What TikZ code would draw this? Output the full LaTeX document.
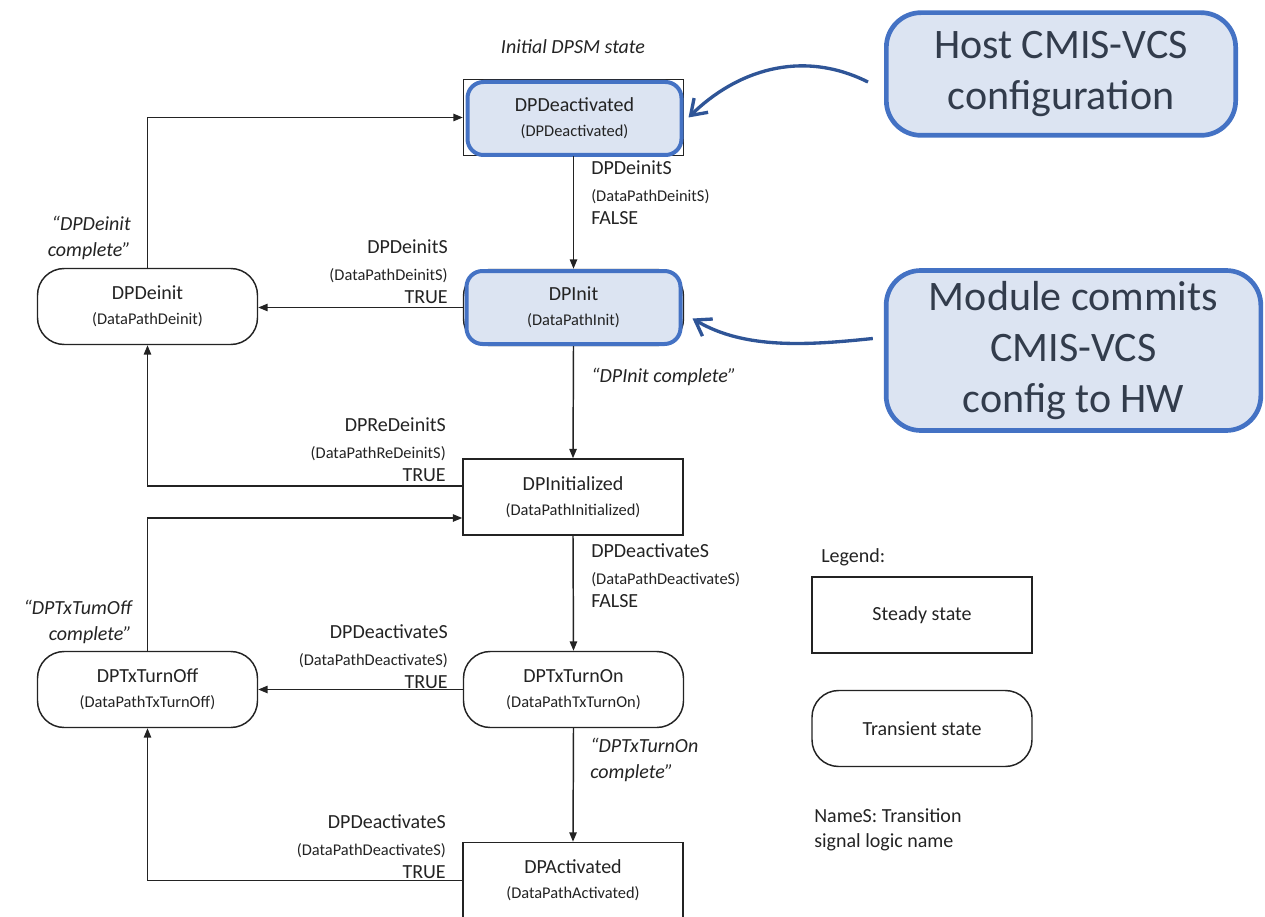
\documentclass[tikz,border=0pt]{standalone}
\usepackage{fontspec}
\setmainfont{Carlito}
\usetikzlibrary{arrows.meta,calc}

\definecolor{hlblue}{RGB}{68,114,196}
\definecolor{hlfill}{RGB}{220,228,242}
\definecolor{arrowblue}{RGB}{47,85,151}
\definecolor{calltext}{RGB}{50,60,76}
\definecolor{inkgray}{RGB}{35,35,35}

\newcommand{\statefont}{\fontsize{15}{17}\selectfont}
\newcommand{\parenfont}{\fontsize{12.3}{14}\selectfont}
\newcommand{\calloutfont}{\fontsize{31.5}{38}\selectfont}
\newcommand{\dpstate}[2]{#1\\[1.75pt]{\parenfont #2}}
\newcommand{\dpsig}[3]{#1\\[3pt]{\parenfont #2}\\[0.5pt]#3}

\begin{document}
\begin{tikzpicture}[x=0.75pt,y=0.75pt,yscale=-1,
  every node/.style={text=inkgray},
  stline/.style={draw=inkgray, line width=1.1pt},
  steady/.style={stline, rectangle, minimum width=165pt, minimum height=57pt, inner sep=0pt, align=center, font=\statefont},
  transient/.style={steady, rounded corners=20pt},
  hilite/.style={rectangle, draw=hlblue, fill=hlfill, line width=3pt, rounded corners=12pt, minimum width=160.5pt, minimum height=54.75pt, inner sep=0pt, align=center, font=\statefont},
  flow/.style={stline, -{Triangle[length=7pt,width=5.5pt]}},
  sig/.style={inner sep=0pt, font=\statefont},
  note/.style={inner sep=0pt, font=\statefont\itshape},
  callout/.style={rectangle, draw=hlblue, fill=hlfill, line width=3.5pt, rounded corners=26pt, inner sep=0pt, align=center, font=\calloutfont, text=calltext},
  callarrow/.style={draw=arrowblue, line width=2.5pt, -{Straight Barb[length=11pt,width=15pt]}}
]
\useasboundingbox (0,0) rectangle (1265,917);

% States
\node[steady] (dpdeact) at (573.5,117.5) {};
\node[hilite] (dpdeacthl) at (574.5,118.5) {\dpstate{DPDeactivated}{(DPDeactivated)}};
\node[transient] (dpinit) at (573.5,307.5) {};
\node[hilite] (dpinithl) at (573.5,307.5) {\dpstate{DPInit}{(DataPathInit)}};
\node[transient] (dpdeinit) at (147.5,306.5) {\dpstate{DPDeinit}{(DataPathDeinit)}};
\node[steady] (dpinitd) at (573,497) {\dpstate{DPInitialized}{(DataPathInitialized)}};
\node[transient] (dptxon) at (573.5,689.5) {\dpstate{DPTxTurnOn}{(DataPathTxTurnOn)}};
\node[transient] (dptxoff) at (147.5,689.5) {\dpstate{DPTxTurnOff}{(DataPathTxTurnOff)}};
\node[steady] (dpact) at (573,880.5) {\dpstate{DPActivated}{(DataPathActivated)}};

% Transitions
\draw[flow] (dpdeact.south) -- (dpinit.north);
\draw[flow] (dpinit.west) -- (dpinit.west -| dpdeinit.east);
\draw[flow] (dpdeinit.north) |- (dpdeact.west);
\draw[flow] (dpinit.south) -- (dpinitd.north);
\draw[flow] ($(dpinitd.west)+(0,-11)$) -| (dpdeinit.south);
\draw[flow] (dptxoff.north) |- ($(dpinitd.west)+(0,21)$);
\draw[flow] (dpinitd.south) -- (dptxon.north);
\draw[flow] (dptxon.west) -- (dptxoff.east);
\draw[flow] (dptxon.south) -- (dpact.north);
\draw[flow] (dpact.west) -| (dptxoff.south);

% Transition labels
\node[note] (initstate) at (573,47) {Initial DPSM state};
\node[sig, anchor=west, align=left] (sigdeinitf) at (591,193) {\dpsig{DPDeinitS}{(DataPathDeinitS)}{FALSE}};
\node[sig, anchor=east, align=right] (sigdeinitt) at (448,272) {\dpsig{DPDeinitS}{(DataPathDeinitS)}{TRUE}};
\node[sig, anchor=east, align=right] (sigredeinit) at (446,450) {\dpsig{DPReDeinitS}{(DataPathReDeinitS)}{TRUE}};
\node[sig, anchor=west, align=left] (sigdeactf) at (591,576) {\dpsig{DPDeactivateS}{(DataPathDeactivateS)}{FALSE}};
\node[sig, anchor=east, align=right] (sigdeactt) at (448,657) {\dpsig{DPDeactivateS}{(DataPathDeactivateS)}{TRUE}};
\node[sig, anchor=east, align=right] (sigdeactt2) at (446,847) {\dpsig{DPDeactivateS}{(DataPathDeactivateS)}{TRUE}};
\node[note, anchor=east, align=right] (deinitdone) at (131,238) {“DPDeinit\\[2.5pt]complete”};
\node[note, anchor=west] (initdone) at (591,377) {“DPInit complete”};
\node[note, anchor=east, align=right] (txoffdone) at (132,622) {“DPTxTumOff\\[2.5pt]complete”};
\node[note, anchor=west, align=left] (txondone) at (590,760) {“DPTxTurnOn\\[2.5pt]complete”};

% Legend
\node[sig, anchor=west] (legendlbl) at (821,557) {Legend:};
\node[steady] (legsteady) at (922,615) {Steady state};
\node[transient] (legtrans) at (922,728.5) {Transient state};
\node[sig, anchor=west, align=left] (legnote) at (814,829.5) {NameS: Transition\\[1.75pt]signal logic name};

% Callouts
\node[callout, minimum width=262pt, minimum height=92pt] (hostcfg) at (1061,74) {Host CMIS-VCS\\configuration};
\node[callout, minimum width=281pt, minimum height=120pt] (hwcommit) at (1073.5,350.5) {Module commits\\CMIS-VCS\\config to HW};
\coordinate (hosttail) at ($(hostcfg.west)+(-16,8)$);
\coordinate (hosttip) at ($(dpdeacthl.east)+(5,-1)$);
\coordinate (hwtail) at ($(hwcommit.west)+(-11,-12)$);
\coordinate (hwtip) at ($(dpinithl.east)+(10,11)$);
\draw[callarrow] (hosttail) .. controls (800,48) and (735,72) .. (hosttip);
\draw[callarrow] (hwtail) .. controls (810,345) and (745,350) .. (hwtip);

\end{tikzpicture}
\end{document}
